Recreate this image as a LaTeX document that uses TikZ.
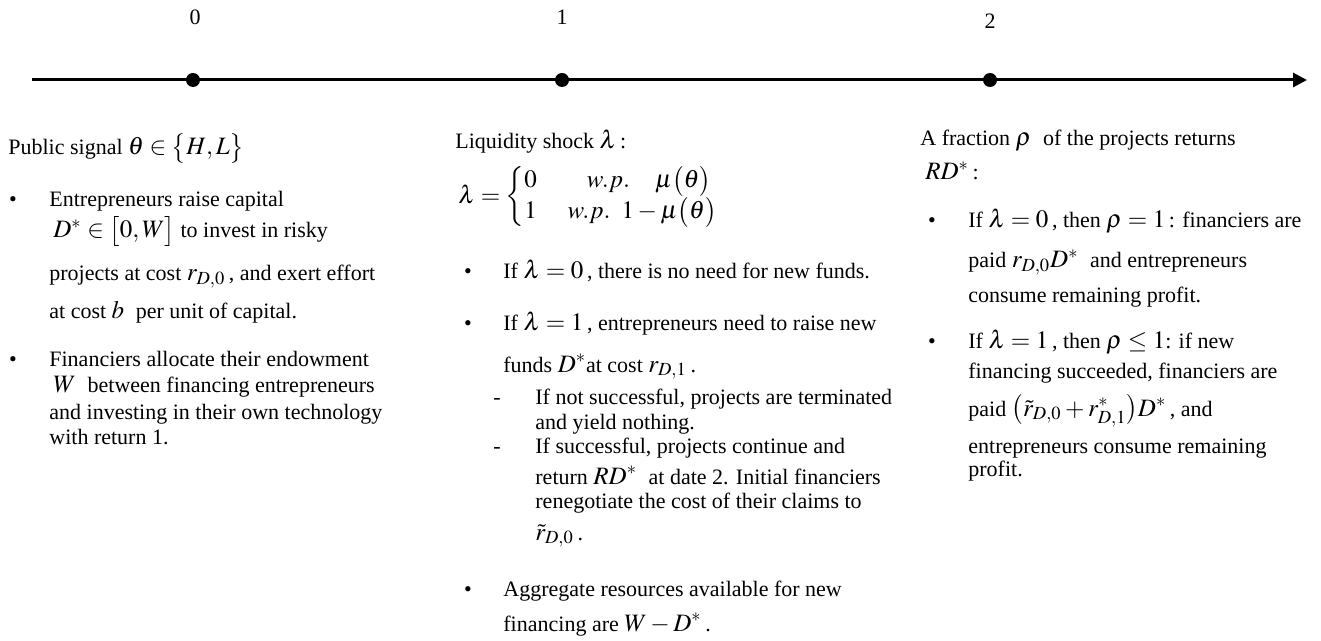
\documentclass[tikz,border=0pt]{standalone}
\usepackage{amsmath}
\usepackage{mathptmx}
\usepackage{fontspec}
\setmainfont{Liberation Serif}
\usetikzlibrary{arrows.meta}
\newcommand{\mth}[1]{{\fontsize{12.5}{13}\selectfont$#1$}}
\begin{document}
\begin{tikzpicture}[x=0.5pt,y=-0.5pt,
  txt/.style={anchor=base west,inner sep=0pt,font=\fontsize{11}{12.5}\selectfont},
  bul/.style={anchor=base,inner sep=0pt,font=\fontsize{11}{12.5}\selectfont},
  lbl/.style={anchor=base,inner sep=0pt,font=\fontsize{11}{12.5}\selectfont},
  dot/.style={circle,fill=black,inner sep=0pt,minimum size=7pt},
  axis/.style={line width=1.5pt,-{Triangle[length=7pt,width=7pt]}}]
\useasboundingbox (0,0) rectangle (1321,641);
% timeline
\coordinate (L) at (32,80);
\coordinate (R) at (1307,80);
\draw[axis] (L) -- (R);
\node[dot] (d0) at (193,80) {};
\node[dot] (d1) at (562,80) {};
\node[dot] (d2) at (990,80) {};
\node[lbl] (t0) at (195,25) {0};
\node[lbl] (t1) at (562,25) {1};
\node[lbl] (t2) at (990,29) {2};
% left column
\node[txt] (ps) at (8,155) {Public signal \mth{\theta\in\bigl\{H,L\bigr\}}};
\node[bul] (b1) at (13,207) {\textbullet};
\node[txt] (e1) at (49,207) {Entrepreneurs raise capital};
\node[txt] (e2) at (53,238) {\mth{D^{*}\in\bigl[0,W\bigr]} to invest in risky};
\node[txt] (e3) at (49,281) {projects at cost \mth{r_{D,0}}\,, and exert effort};
\node[txt] (e4) at (49,319) {at cost \mth{b}\; per unit of capital.};
\node[bul] (b2) at (13,366) {\textbullet};
\node[txt] (f1) at (49,366) {Financiers allocate their endowment};
\node[txt] (f2) at (53,393) {\mth{W}\; between financing entrepreneurs};
\node[txt] (f3) at (49,419) {and investing in their own technology};
\node[txt] (f4) at (49,444) {with return 1.};
% middle column
\node[txt] (ls) at (455,149) {Liquidity shock \mth{\lambda}\,:};
\node[anchor=west,inner sep=0pt] (cs) at (458,197) {\mth{\lambda=\begin{cases}0 & \quad w.p.\quad \mu\bigl(\theta\bigr)\\ 1 & \;w.p.\;\; 1-\mu\bigl(\theta\bigr)\end{cases}}};
\node[bul] (b3) at (468,279) {\textbullet};
\node[txt] (m1) at (503,279) {If \mth{\lambda=0}\,, there is no need for new funds.};
\node[bul] (b4) at (468,331) {\textbullet};
\node[txt] (m2) at (503,331) {If \mth{\lambda=1}\,, entrepreneurs need to raise new};
\node[txt] (m3) at (503,372) {funds \mth{D^{*}}at cost \mth{r_{D,1}}\,.};
\node[bul] (s1) at (497,404) {-};
\node[txt] (m4) at (535,404) {If not successful, projects are terminated};
\node[txt] (m5) at (535,429) {and yield nothing.};
\node[bul] (s2) at (497,453) {-};
\node[txt] (m6) at (535,453) {If successful, projects continue and};
\node[txt] (m7) at (535,484) {return \mth{RD^{*}}\; at date 2. Initial financiers};
\node[txt] (m8) at (535,508) {renegotiate the cost of their claims to};
\node[txt] (m9) at (535,540) {\mth{\tilde{r}_{D,0}}\,.};
\node[bul] (b5) at (468,596) {\textbullet};
\node[txt] (m10) at (503,596) {Aggregate resources available for new};
\node[txt] (m11) at (503,631) {financing are \mth{W-D^{*}}\,.};
% right column
\node[txt] (rf) at (920,146) {A fraction \mth{\rho}\; of the projects returns};
\node[txt] (rd) at (925,180) {\mth{RD^{*}}\,:};
\node[bul] (b6) at (932,228) {\textbullet};
\node[txt] (r1) at (968,228) {If \mth{\lambda=0}\,, then \mth{\rho=1}\,: financiers are};
\node[txt] (r2) at (968,268) {paid \mth{r_{D,0}D^{*}}\; and entrepreneurs};
\node[txt] (r3) at (968,303) {consume remaining profit.};
\node[bul] (b7) at (932,349) {\textbullet};
\node[txt] (r4) at (968,349) {If \mth{\lambda=1}\,, then \mth{\rho\le 1}: if new};
\node[txt] (r5) at (968,379) {financing succeeded, financiers are};
\node[txt] (r6) at (968,416) {paid \mth{\bigl(\tilde{r}_{D,0}+r^{*}_{D,1}\bigr)D^{*}}\,, and};
\node[txt] (r7) at (968,453) {entrepreneurs consume remaining};
\node[txt] (r8) at (968,476) {profit.};
\end{tikzpicture}
\end{document}
